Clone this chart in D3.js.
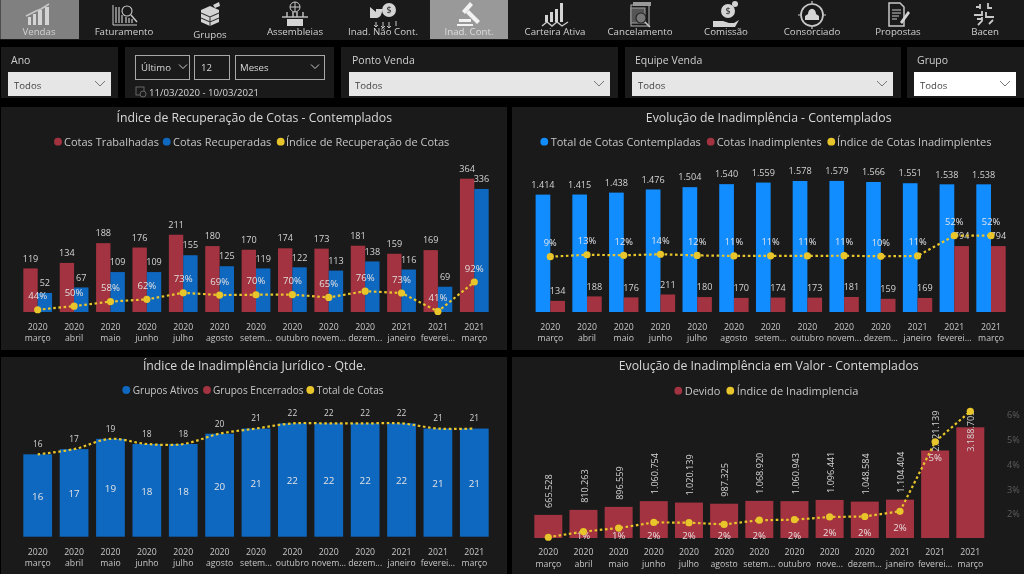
<!DOCTYPE html>
<html lang="pt-BR"><head><meta charset="utf-8">
<script src="https://cdn.jsdelivr.net/npm/d3@7"></script>
<style>
html,body{margin:0;padding:0;background:#000;overflow:hidden}
svg{display:block;filter:blur(.35px)}
text{font-family:"Open Sans",sans-serif}
</style></head><body><svg id="c" width="1024" height="574"></svg>
<script>
// ---------- data ----------
const years=["2020","2020","2020","2020","2020","2020","2020","2020","2020","2020","2021","2021","2021"];
const months=["março","abril","maio","junho","julho","agosto","setem...","outubro","novem...","dezem...","janeiro","feverei...","março"];
const monthsValor=["março","abril","maio","junho","julho","agosto","setem...","outubro","nove...","dezem...","janeiro","feverei...","março"];
const cotasTrabalhadas=[119,134,188,176,211,180,170,174,173,181,159,169,364];
const cotasRecuperadas=[52,67,109,109,155,125,119,122,113,138,116,69,336];
const indiceRecuperacao=[43.7,50,58,61.9,73.4,69.4,70,70.1,65.3,76.2,73,40.8,92.3];
const totalContempladas=[1414,1415,1438,1476,1504,1540,1559,1578,1579,1566,1551,1538,1538];
const cotasInadimplentes=[134,188,176,211,180,170,174,173,181,159,169,794,794];
const indiceInadimplentes=[9.4,13.3,12.2,14.3,12,11,11.2,11,11.4,10.2,10.9,51.6,51.6];
const gruposAtivos=[16,17,19,18,18,20,21,22,22,22,22,21,21];
const totalCotas=[16,17,19,18,18,20,21,22,22,22,22,21,21];
const devido=[665528,810263,896559,1060754,1020139,987325,1068920,1060943,1096441,1048584,1104404,2521139,3188705];
const indiceValor=[1.06,1.29,1.43,1.66,1.65,1.58,1.75,1.77,1.88,1.9,2.11,4.92,6.15];
const indiceValorLabels=[null,"1%","1%","2%","2%","2%","2%","2%","2%","2%","2%","5%",null];
const valorTicks=[2,3,4,5,6];
const navItems=["Vendas","Faturamento","Grupos","Assembleias","Inad. Não Cont.","Inad. Cont.","Carteira Ativa","Cancelamento","Comissão","Consorciado","Propostas","Bacen"];
// ---------- style ----------
const RED="#a33340",BLUE="#0f68c0",BRIGHT="#118dff",YEL="#e8c52a",TXT="#d4d4d4",PANEL="#1a1a1a";
const svg=d3.select("#c");
const fmt=d3.format(",");
const br=v=>fmt(v).replace(/,/g,".");
const pct=v=>Math.round(v)+"%";
function rect(g,x,y,w,h,f,s){return g.append("rect").attr("x",x).attr("y",y).attr("width",w).attr("height",h).attr("fill",f||"none").attr("stroke",s||"none")}
function text(g,x,y,t,size,fill,anchor){return g.append("text").attr("x",x).attr("y",y).attr("dy",".35em").attr("font-size",size).attr("fill",fill||TXT).attr("text-anchor",anchor||"start").text(t)}
function chevron(g,x,y,w,col){g.append("path").attr("d",`M${x-w},${y-w/2}L${x},${y+w/2}L${x+w},${y-w/2}`).attr("fill","none").attr("stroke",col).attr("stroke-width",1)}

// ---------- nav ----------
rect(svg,0,0,1024,40,PANEL);
rect(svg,.5,0,78.5,39,"#808080");
rect(svg,430,0,78,39,"#999");
const navX=[39,124,210,295,383,469,555,640,726,812,898,985];
const navY=[32,32,35,32,32,32,32,32,32,32,32,32];
navItems.forEach((t,i)=>text(svg,navX[i],navY[i],t,9.7,i==5?"#ddd":"#d0d0d0","middle"));
const ic="#c8c8c8";
function icon(i,draw){const g=svg.append("g").attr("transform",`translate(${navX[i]},15)`).attr("stroke",ic).attr("fill","none").attr("stroke-width",1.1);draw(g)}
function P(g,d,f,sw){const p=g.append("path").attr("d",d);if(f)p.attr("fill",f).attr("stroke","none");if(sw)p.attr("stroke-width",sw);return p}
const ICO="#d4d4d4";
icon(0,g=>{P(g,"M-11,10V2h3v8zM-6,10V-1h3v11zM-1,10V-5h4v15zM6,10V-8h4v18z",ICO);P(g,"M-13,1L-3,-4L2,-6L10,-11",null,1.5)});
icon(1,g=>{P(g,"M-11,-10V10H13",null,1);P(g,"M-8,8V-8M-5,8V-8M-2,8V0M2,8V2M5,8V3M8,8V4",null,1.2);g.append("circle").attr("cx",3).attr("cy",-4).attr("r",5);P(g,"M7,0L13,7",null,1.4)});
icon(2,g=>{P(g,"M-9,-5L0,-9L9,-5V7L0,11L-9,7Z",ICO);P(g,"M-9,-2L0,2L9,-2M0,2V11M-9,3L0,7L9,3").attr("stroke","#333");P(g,"M3,-10L9,-13L10,-9L5,-7Z",ICO)});
icon(3,g=>{P(g,"M-13,2H13",null,1.4);rect(g,-8,4,16,7,ICO);P(g,"M-5,-8a5,5 0 1 1 10,0a5,5 0 1 1 -10,0ZM-5,-8H5M0,-13V-3",null,1);P(g,"M-8,2V-3M8,2V-3M-2,2V-3M2,2V-3",null,1.4)});
icon(4,g=>{P(g,"M-13,-8L-7,-3V-6H0C-2,0 -2,2 -6,3L-13,3Z",ICO);g.append("circle").attr("cx",6).attr("cy",-5).attr("r",7).attr("fill",ICO).attr("stroke","none");text(g,6,-5,"$",9,"#1a1a1a","middle").attr("stroke","none");P(g,"M-7,7V11M0,7V13M6,7V13M13,6V11M-9,10L-7,12L-5,10M-2,11L0,13L2,11M4,11L6,13L8,11",null,1)});
icon(5,g=>{P(g,"M-7,-4L1,-13L4,-10L-4,-1ZM0,-5L11,6L8,9L-3,-2Z","#f2f2f2");P(g,"M-10,4H2V7H-10ZM-12,9H4V11H-12Z","#f2f2f2")});
icon(6,g=>{P(g,"M-10,7V0h3v7zM-5,7V-3h3v10zM0,7V-6h3v13zM5,7V-12h3v19z",ICO);P(g,"M-13,11L-8,7L-3,11L2,7L7,11L13,7",null,1.4)});
icon(7,g=>{rect(g,-9,-10,18,21,"none","#aaa");rect(g,-7,-13,18,4,"#999");rect(g,-9,-7,14,15,"#555","#999");g.append("circle").attr("cx",1).attr("cy",3).attr("r",5).attr("fill","#777").attr("stroke","#222");P(g,"M5,7L10,12",null,1.5)});
icon(8,g=>{g.append("circle").attr("cx",2).attr("cy",-4).attr("r",7).attr("fill",ICO).attr("stroke","none");g.append("circle").attr("cx",9).attr("cy",-11).attr("r",3).attr("fill",ICO).attr("stroke","none");text(g,2,-4,"$",9,"#1a1a1a","middle").attr("stroke","none");P(g,"M-13,6H-3L3,8H8L13,5L9,12H-5L-13,12Z",ICO)});
icon(9,g=>{g.append("circle").attr("r",11).attr("stroke-width",1.7);P(g,"M0,-14V-11M0,11V14M-14,0H-11M11,0H14",null,1.2);P(g,"M-7,5V1L-4,-1A3,4 0 1 1 4,-1L7,1V5Z",ICO)});
icon(10,g=>{P(g,"M-9,-12H2L6,-8V11H-9Z",null,1.5);P(g,"M-6,-5H3M-6,-2H3M-6,1H1M-6,4H-1",null,1.2);P(g,"M2,7L10,-4L12,-2L4,9Z",ICO)});
icon(11,g=>{P(g,"M-9,-8L-5,-8M-5,-11V-6M3,-12V-7H7M-11,0H-3V-4M1,-3V2H9M-7,10L-3,6V2M-8,4H-3M4,9L8,5",null,1.8)});

// ---------- filters ----------
[[1,117],[125,209],[341,277],[625,276],[907,117]].forEach(d=>rect(svg,d[0],47,d[1],51,PANEL));
[[8,103,"Ano",11,"#e6e6e6"],[349,261,"Ponto Venda",352,"#e6e6e6"],[632,261,"Equipe Venda",635,"#e6e6e6"],[914,102,"Grupo",917,"#fff"]].forEach(d=>{
 text(svg,d[3],60,d[2],10.5,"#cfcfcf");
 rect(svg,d[0],72,d[1],24,d[4]);
 text(svg,d[0]+6,86,"Todos",9.6,"#444");
 chevron(svg,d[0]+d[1]-11,83.5,5,"#777");
});
[[135,54,"Último",141,183],[194,35,"12",201,null],[235,89,"Meses",240,315]].forEach(d=>{
 rect(svg,d[0]+.5,55.5,d[1],24,"none","#a8a8a8");
 text(svg,d[3],68,d[2],9.6,"#d8d8d8");
 if(d[4])chevron(svg,d[4],66.5,4,"#ccc");
});
rect(svg,136,87,8,8,"none","#666");
svg.append("circle").attr("cx",143).attr("cy",94).attr("r",3).attr("fill",PANEL).attr("stroke","#666");
text(svg,149,92.5,"11/03/2020 - 10/03/2021",9.6,"#d8d8d8");

// ---------- chart helpers ----------
[[1,107,506,243],[512,107,512,243],[1,357,506,217],[512,357,512,217]].forEach(d=>rect(svg,d[0],d[1],d[2],d[3],PANEL));
function title(x,y,t){text(svg,x,y,t,12.25,"#d8d8d8","middle")}
function legend(y,size,items){items.forEach(d=>{
 svg.append("circle").attr("cx",d[0]).attr("cy",y).attr("r",3.9).attr("fill",d[2]);
 text(svg,d[1],y,d[3],size,"#c6c6c6");
})}
function band(c0,cN,p){const s=(cN-c0)/12;return d3.scaleBand().domain(d3.range(13)).range([c0-s/2,cN+s/2]).paddingInner(p).paddingOuter(p/2)}
function axis(x,y,y1,mLabels){
 const g=svg.append("g").attr("transform",`translate(0,${y})`).call(d3.axisBottom(x).tickSize(0).tickFormat(i=>years[i]));
 g.select(".domain").remove();
 g.selectAll("text").attr("y",0).attr("dy",".35em").attr("font-size",8.7).attr("fill","#c8c8c8").style("font-family",'"Open Sans"');
 g.selectAll(".tick").append("text").attr("y",y1-y).attr("dy",".35em").attr("text-anchor","middle").attr("font-size",8.7).attr("fill","#c8c8c8").text(i=>mLabels[i]);
}
function bars(x0,w,y,base,vals,col){
 svg.append("g").selectAll("rect").data(vals).join("rect")
  .attr("x",(d,i)=>x0(i)).attr("width",w).attr("y",d=>y(d)).attr("height",d=>base-y(d)).attr("fill",col);
}
function labels(xc,yf,vals,f,size,col){
 svg.append("g").selectAll("text").data(vals).join("text")
  .attr("x",(d,i)=>xc(i)).attr("y",(d,i)=>yf(d,i)).attr("dy",".35em").attr("text-anchor","middle")
  .attr("font-size",size).attr("fill",col).text(f);
}
function line(xc,y,vals,curve,markers){
 const l=d3.line().x((d,i)=>xc(i)).y(d=>y(d)).curve(curve);
 svg.append("path").attr("d",l(vals)).attr("fill","none").attr("stroke",YEL).attr("stroke-width",2.2).attr("stroke-dasharray","2.6 2.6");
 if(markers)svg.append("g").selectAll("circle").data(vals).join("circle").attr("cx",(d,i)=>xc(i)).attr("cy",d=>y(d)).attr("r",3.6).attr("fill",YEL);
}

// ---------- chart 1 ----------
{const x=band(37.7,474.3,.21),bw=x.bandwidth()/2,base=312,xc=i=>x(i)+x.bandwidth()/2;
 const y=d3.scaleLinear().domain([0,364]).range([base,base-133.3]);
 const yl=d3.scaleLinear().domain([40.8,92.3]).range([311.4,282]);
 title(254.3,117.3,"Índice de Recuperação de Cotas - Contemplados");
 legend(141.7,11,[[58,64,RED,"Cotas Trabalhadas"],[166.7,173,BLUE,"Cotas Recuperadas"],[280.7,286,YEL,"Índice de Recuperação de Cotas"]]);
 bars(x,bw,y,base,cotasTrabalhadas,RED);
 bars(i=>x(i)+bw,bw,y,base,cotasRecuperadas,BLUE);
 axis(x,326.7,338,months);
 labels(i=>xc(i)-bw/2,d=>y(d)-10,cotasTrabalhadas,d=>d,9.1,TXT);
 labels(i=>xc(i)+bw/2,d=>y(d)-10,cotasRecuperadas,d=>d,9.1,TXT);
 labels(xc,d=>yl(d)-13.7,indiceRecuperacao,pct,9.6,"#e0dede");
 line(xc,yl,indiceRecuperacao,d3.curveLinear,true);
}
// ---------- chart 2 ----------
{const x=band(550.3,991,.2),bw=x.bandwidth()/2,base=312,xc=i=>x(i)+x.bandwidth()/2;
 const y=d3.scaleLinear().domain([0,1578]).range([base,base-131]);
 const yl=d3.scaleLinear().domain([9.4,51.6]).range([256.7,235.7]);
 title(768.7,117.3,"Evolução de Inadimplência - Contemplados");
 legend(141.7,11,[[544.3,550.7,BRIGHT,"Total de Cotas Contempladas"],[710.7,716.7,RED,"Cotas Inadimplentes"],[831.3,837,YEL,"Índice de Cotas Inadimplentes"]]);
 bars(x,bw,y,base,totalContempladas,BRIGHT);
 bars(i=>x(i)+bw,bw,y,base,cotasInadimplentes,RED);
 axis(x,326.7,338,months);
 labels(i=>xc(i)-bw/2,d=>y(d)-10,totalContempladas,br,9.1,TXT);
 labels(i=>xc(i)+bw/2,d=>y(d)-10,cotasInadimplentes,d=>d,9.1,TXT);
 labels(xc,d=>yl(d)-14,indiceInadimplentes,pct,9.3,"#e0e4ea");
 line(xc,yl,indiceInadimplentes,d3.curveLinear,true);
}
// ---------- chart 3 ----------
{const x=band(37.7,474.3,.21),base=536.7,xc=i=>x(i)+x.bandwidth()/2;
 const y=d3.scaleLinear().domain([0,22]).range([base,base-113.3]);
 title(254.5,366,"Índice de Inadimplência Jurídico - Qtde.");
 legend(390,10.1,[[126.3,132.7,BLUE,"Grupos Ativos"],[207,213,RED,"Grupos Encerrados"],[310.3,316.7,YEL,"Total de Cotas"]]);
 bars(x,x.bandwidth(),y,base,gruposAtivos,BLUE);
 axis(x,551.7,563.3,months);
 labels(xc,d=>(y(d)+base)/2+1,gruposAtivos,d=>d,9.8,"#e4e4e4");
 labels(xc,d=>y(d)-10,totalCotas,d=>d,8.4,TXT);
 line(xc,y,totalCotas,d3.curveCatmullRom,false);
}
// ---------- chart 4 ----------
{const x=band(548.3,970.3,.204),base=538,xc=i=>x(i)+x.bandwidth()/2;
 const y=d3.scaleLinear().domain([0,3188705]).range([base,base-110.7]);
 const yl=d3.scaleLinear().domain([2,6]).range([514,415]);
 title(768.7,366,"Evolução de Inadimplência em Valor - Contemplados");
 legend(390.7,11,[[678.3,684.7,RED,"Devido"],[730.3,736.7,YEL,"Índice de Inadimplencia"]]);
 bars(x,x.bandwidth(),y,base,devido,RED);
 axis(x,552.3,564,monthsValor);
 const ya=d3.axisRight(yl).tickValues(valorTicks).tickSize(0).tickFormat(d=>d+"%");
 const ga=svg.append("g").attr("transform","translate(1007,0)").call(ya);
 ga.select(".domain").remove();
 ga.selectAll("text").attr("x",0).attr("font-size",9.1).attr("fill","#5e5e5e").style("font-family",'"Open Sans"');
 svg.append("g").selectAll("text").data(devido).join("text")
  .attr("font-size",9.1).attr("fill",TXT).attr("text-anchor","start").attr("dy",".35em")
  .attr("transform",(d,i)=>{const len=br(d).length*4.7;return `translate(${xc(i)+1},${Math.max(y(d)-7,409.5+len)}) rotate(-90)`})
  .text(br);
 labels(xc,(d,i)=>Math.min(yl(indiceValor[i])+16,535.7),indiceValorLabels,d=>d,9.6,"#e6dcdc");
 line(xc,yl,indiceValor,d3.curveLinear,true);
}
</script></body></html>
